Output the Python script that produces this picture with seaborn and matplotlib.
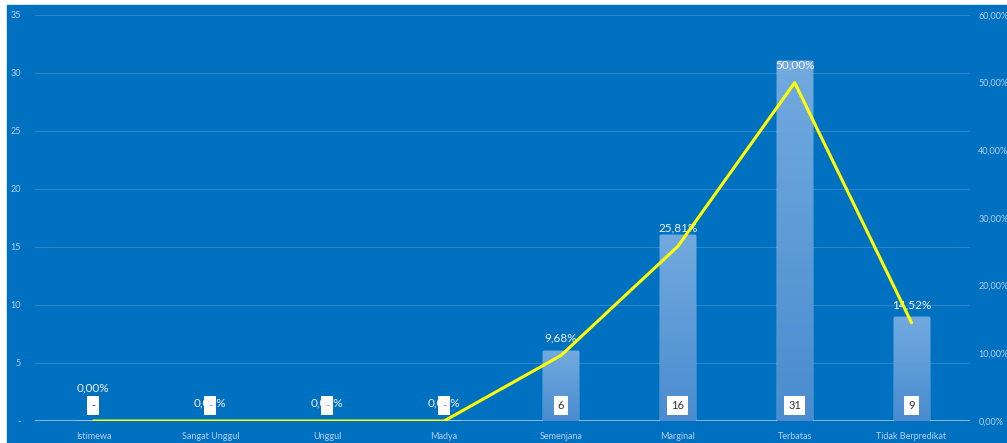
import numpy as np
import matplotlib
matplotlib.use("Agg")
import matplotlib.pyplot as plt
import matplotlib.patches as mpatches
import seaborn as sns
import pandas as pd

categories = ["Istimewa", "Sangat Unggul", "Unggul", "Madya", "Semenjana",
              "Marginal", "Terbatas", "Tidak Berpredikat"]
counts = [0, 0, 0, 0, 6, 16, 31, 9]
percents = [0.00, 0.00, 0.00, 0.00, 9.68, 25.81, 50.00, 14.52]
left_ticks = [0, 5, 10, 15, 20, 25, 30, 35]
left_tick_labels = ["-", "5", "10", "15", "20", "25", "30", "35"]
right_ticks = [0, 10, 20, 30, 40, 50, 60]
right_tick_labels = ["0,00%", "10,00%", "20,00%", "30,00%", "40,00%", "50,00%", "60,00%"]

BG = "#0070C0"
GRID = "#2A85CC"
TICK = "#B4D0EC"

sns.set_theme(style="white")
plt.rcParams["font.family"] = ["Lato", "DejaVu Sans"]

fig = plt.figure(figsize=(10.07, 4.43), dpi=100, facecolor="white")
fig.patches.append(mpatches.Rectangle((7 / 1007, 0), 1, 1 - 5 / 443,
                                      transform=fig.transFigure, color=BG, zorder=-10))
ax = fig.add_axes([35 / 1007, 1 - 421 / 443, (970 - 35) / 1007, (421 - 15) / 443])
ax.set_facecolor("none")

df = pd.DataFrame({"cat": categories, "count": counts})
sns.barplot(data=df, x="cat", y="count", ax=ax, color="#6FA8DC", width=0.3,
            saturation=1, zorder=2)

# gradient fill on bars
grad = np.linspace(0, 1, 256).reshape(-1, 1)
cmap = matplotlib.colors.LinearSegmentedColormap.from_list("g", ["#4A8CCF", "#72AADF"])
for p in list(ax.patches):
    x0, y0 = p.get_x(), p.get_y()
    w, h = p.get_width(), p.get_height()
    if h <= 0:
        continue
    im = ax.imshow(grad, extent=[x0, x0 + w, y0, y0 + h], origin="lower",
                   cmap=cmap, aspect="auto", zorder=2.1)
    im.set_clip_path(p)

ax.set_xlim(-0.5, len(categories) - 0.5)
ax.set_ylim(0, 35)
ax.set_yticks(left_ticks)
ax.set_yticklabels(left_tick_labels)
ax.set_xlabel("")
ax.set_ylabel("")
ax.tick_params(axis="both", colors=TICK, labelsize=6.5, length=0, pad=8)
ax.tick_params(axis="y", pad=10)
for s in ax.spines.values():
    s.set_visible(False)
for t in left_ticks[1:]:
    ax.axhline(t, color=GRID, lw=0.8, zorder=1)
ax.axhline(0, color="#9DC3E6", lw=1.2, zorder=1.5)

# value boxes at bar base
for i, c in enumerate(counts):
    lab = "-" if c == 0 else str(c)
    ax.annotate(lab, (i, 0), xytext=(0, 11), textcoords="offset points",
                ha="center", va="center", fontsize=8, color="#333333", zorder=6,
                bbox=dict(boxstyle="square,pad=0.35", fc="white", ec="none"))

ax2 = ax.twinx()
ax2.set_ylim(0, 60)
ax2.set_yticks(right_ticks)
ax2.set_yticklabels(right_tick_labels)
ax2.tick_params(axis="y", colors=TICK, labelsize=6.5, length=0, pad=6)
for s in ax2.spines.values():
    s.set_visible(False)
sns.lineplot(x=np.arange(len(categories)), y=percents, ax=ax2, color="#FFFF00",
             lw=2.2, zorder=5)
ax2.set_xlim(-0.5, len(categories) - 0.5)
for i, pv in enumerate(percents):
    lab = f"{pv:.2f}%".replace(".", ",")
    ax2.annotate(lab, (i, pv), xytext=(0, 13 if i else 24), textcoords="offset points",
                 ha="center", va="center", fontsize=8.5, color="#F2F2F2", zorder=4)

fig.savefig("out.png", dpi=100, facecolor="white")
